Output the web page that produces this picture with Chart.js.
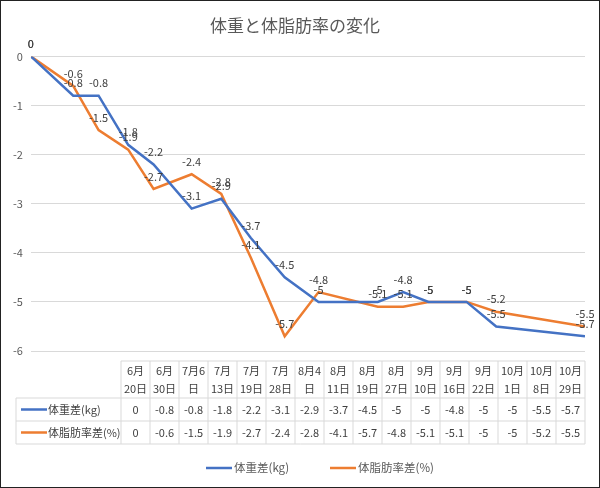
<!DOCTYPE html>
<html><head><meta charset="utf-8">
<script src="https://cdn.jsdelivr.net/npm/chart.js@4/dist/chart.umd.min.js"></script>
<style>html,body{margin:0;padding:0;background:#fff}#w{position:absolute;left:0;top:0;width:598px;height:486px;border:1px solid #222}</style>
</head><body><div id="w"><canvas id="c"></canvas></div>
<script>
const categories=["6月\n20日","6月\n30日","7月6\n日","7月\n13日","7月\n19日","7月\n28日","8月4\n日","8月\n11日","8月\n19日","8月\n27日","9月\n10日","9月\n16日","9月\n22日","10月\n1日","10月\n8日","10月\n29日"];
const dayOffsets=[0,10,16,23,29,38,45,52,60,68,82,88,94,103,110,131];
const weightDiff=[0,-0.8,-0.8,-1.8,-2.2,-3.1,-2.9,-3.7,-4.5,-5,-5,-4.8,-5,-5,-5.5,-5.7];
const fatDiff=[0,-0.6,-1.5,-1.9,-2.7,-2.4,-2.8,-4.1,-5.7,-4.8,-5.1,-5.1,-5,-5,-5.2,-5.5];
const seriesNames=["体重差(kg)","体脂肪率差(%)"];
const colors=["#4472C4","#ED7D31"];
const FONT='"Noto Sans CJK JP","Noto Sans",sans-serif';
const pts=a=>a.map((v,i)=>({x:dayOffsets[i],y:v}));
const extra={id:'extra',afterDatasetsDraw(ch){
 const c=ch.ctx;c.save();c.font='11px '+FONT;c.fillStyle='#404040';c.textAlign='center';c.textBaseline='bottom';
 ch.data.datasets.forEach((ds,di)=>{ch.getDatasetMeta(di).data.forEach((p,i)=>{c.fillText(String(ds.data[i].y),p.x,p.y-7);});});
 const L=15,C0=120,R=584,top=360,h1=37,rh=23;const cw=(R-C0)/categories.length;
 c.strokeStyle='#d9d9d9';c.lineWidth=1;
 c.beginPath();
 c.moveTo(C0,top);c.lineTo(R,top);
 c.moveTo(L,top+h1);c.lineTo(R,top+h1);
 c.moveTo(L,top+h1+rh);c.lineTo(R,top+h1+rh);
 c.moveTo(L,top+h1+2*rh);c.lineTo(R,top+h1+2*rh);
 c.moveTo(L,top+h1);c.lineTo(L,top+h1+2*rh);
 for(let i=0;i<=categories.length;i++){const x=C0+i*cw;c.moveTo(x,top);c.lineTo(x,top+h1+2*rh);}
 c.stroke();
 c.textBaseline='middle';c.fillStyle='#404040';
 categories.forEach((t,i)=>{const ls=t.split('\n');ls.forEach((s,k)=>c.fillText(s,C0+(i+.5)*cw,top+10+k*18));});
 [weightDiff,fatDiff].forEach((arr,r)=>{const y=top+h1+rh*(r+.5);
  arr.forEach((v,i)=>c.fillText(String(v),C0+(i+.5)*cw,y));
  c.strokeStyle=colors[r];c.lineWidth=2.5;c.beginPath();c.moveTo(20,y);c.lineTo(46,y);c.stroke();
  c.textAlign='left';c.fillText(seriesNames[r],47,y);c.textAlign='center';});
 const ly=467;c.font='11.5px '+FONT;
 const items=[[205,seriesNames[0]],[329,seriesNames[1]]];
 items.forEach(([x,t],r)=>{c.strokeStyle=colors[r];c.lineWidth=2.5;c.beginPath();c.moveTo(x,ly);c.lineTo(x+26,ly);c.stroke();c.textAlign='left';c.fillStyle='#595959';c.fillText(t,x+28,ly);});
 c.restore();}};
new Chart(document.getElementById('c'),{type:'line',
 data:{datasets:[{label:seriesNames[0],data:pts(weightDiff),borderColor:colors[0],borderWidth:2.5,pointRadius:0,tension:0},
 {label:seriesNames[1],data:pts(fatDiff),borderColor:colors[1],borderWidth:2.5,pointRadius:0,tension:0}]},
 options:{responsive:true,maintainAspectRatio:false,animation:false,
  layout:{padding:{left:4,right:14,top:0,bottom:136}},
  plugins:{legend:{display:false},tooltip:{enabled:false},
   title:{display:true,text:'体重と体脂肪率の変化',color:'#595959',font:{family:FONT,size:17,weight:'normal'},padding:{top:14,bottom:21}}},
  scales:{x:{type:'linear',min:0,max:131,display:false},
   y:{min:-6,max:0,ticks:{stepSize:1,color:'#595959',font:{family:FONT,size:11},padding:8},grid:{color:'#d9d9d9',drawTicks:false},border:{display:false}}}},
 plugins:[extra]});
</script></body></html>
